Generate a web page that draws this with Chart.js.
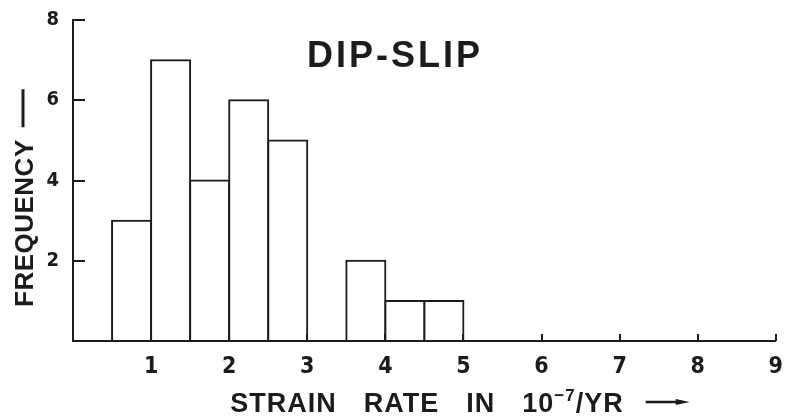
<!DOCTYPE html>
<html>
<head>
<meta charset="utf-8">
<script src="https://cdn.jsdelivr.net/npm/chart.js@4/dist/chart.umd.min.js"></script>
<style>
  html, body { margin: 0; padding: 0; background: #fff; }
  canvas { display: block; }
</style>
</head>
<body>
<canvas id="chart" width="787" height="417"></canvas>
<script>
// histogram bins, width 0.5 (x 10^-7 / yr)
const binCenters = [0.75, 1.25, 1.75, 2.25, 2.75, 3.25, 3.75, 4.25, 4.75]
const frequencies = [3, 7, 4, 6, 5, 0, 2, 1, 1]
const xTickValues = [1, 2, 3, 4, 5, 6, 7, 8, 9]
const yTickValues = [2, 4, 6, 8]

const chartTitle = 'DIP-SLIP'
const yTitle = 'FREQUENCY'
const xTitleWords = ['STRAIN', 'RATE', 'IN', '10']
const xTitleExp = '\u22127'
const xTitleUnit = '/YR'

const ink = '#1c1c1c'
const tickFont = "'DejaVu Sans Condensed', 'DejaVu Sans', sans-serif"
const titleFont = "'Liberation Sans', Arial, sans-serif"

const decorations = {
  id: 'decorations',
  afterDraw(chart) {
    const { ctx, chartArea, scales: { x, y } } = chart
    ctx.save()
    ctx.strokeStyle = ink
    ctx.fillStyle = ink
    ctx.lineWidth = 2

    // inward tick marks
    yTickValues.forEach((v) => {
      const py = Math.round(y.getPixelForValue(v))
      ctx.beginPath()
      ctx.moveTo(chartArea.left, py)
      ctx.lineTo(chartArea.left + 12, py)
      ctx.stroke()
    })
    xTickValues.forEach((v) => {
      const px = Math.round(x.getPixelForValue(v))
      ctx.beginPath()
      ctx.moveTo(px, chartArea.bottom)
      ctx.lineTo(px, chartArea.bottom - 7)
      ctx.stroke()
    })

    // title inside the plot
    ctx.font = `bold 36px ${titleFont}`
    ctx.letterSpacing = '3px'
    ctx.textAlign = 'left'
    ctx.textBaseline = 'alphabetic'
    const tw = ctx.measureText(chartTitle).width
    ctx.fillText(chartTitle, 395 - tw / 2, 67)

    // x axis title
    ctx.font = `bold 27px ${titleFont}`
    ctx.letterSpacing = '1px'
    const gap = 27
    const expFont = `bold 17px ${titleFont}`
    const widths = xTitleWords.map((w) => ctx.measureText(w).width)
    ctx.font = expFont
    const expW = ctx.measureText(xTitleExp).width
    ctx.font = `bold 27px ${titleFont}`
    const unitW = ctx.measureText(xTitleUnit).width
    const arrowW = 44
    const total = widths.reduce((a, b) => a + b, 0) + gap * (xTitleWords.length - 1) + expW + unitW + 22 + arrowW
    let cx = 460 - total / 2
    const base = 412
    xTitleWords.forEach((w, i) => {
      ctx.fillText(w, cx, base)
      cx += widths[i] + (i < xTitleWords.length - 1 ? gap : 0)
    })
    ctx.font = expFont
    ctx.fillText(xTitleExp, cx, base - 11)
    cx += expW
    ctx.font = `bold 27px ${titleFont}`
    ctx.fillText(xTitleUnit, cx, base)
    cx += unitW + 22
    ctx.lineWidth = 2.5
    ctx.beginPath()
    ctx.moveTo(cx, base - 10)
    ctx.lineTo(cx + arrowW - 8, base - 10)
    ctx.stroke()
    ctx.beginPath()
    ctx.moveTo(cx + arrowW, base - 10)
    ctx.lineTo(cx + arrowW - 14, base - 13)
    ctx.lineTo(cx + arrowW - 14, base - 7)
    ctx.closePath()
    ctx.fill()

    // y axis title, rotated
    ctx.save()
    ctx.translate(33, 307)
    ctx.rotate(-Math.PI / 2)
    ctx.font = `bold 26px ${titleFont}`
    ctx.letterSpacing = '0.5px'
    const yw = ctx.measureText(yTitle).width
    ctx.fillText(yTitle, 0, 0)
    ctx.lineWidth = 3
    ctx.beginPath()
    ctx.moveTo(yw + 12, -10)
    ctx.lineTo(yw + 50, -10)
    ctx.stroke()
    ctx.restore()

    ctx.restore()
  },
}

new Chart(document.getElementById('chart'), {
  type: 'bar',
  data: {
    datasets: [{
      data: binCenters.map((c, i) => ({ x: c, y: frequencies[i] })),
      backgroundColor: '#ffffff',
      borderColor: ink,
      borderWidth: 2,
      borderSkipped: false,
      inflateAmount: 1,
      barPercentage: 1,
      categoryPercentage: 1,
    }],
  },
  options: {
    responsive: false,
    animation: false,
    layout: { padding: { top: 20, right: 11, left: 0, bottom: 0 } },
    plugins: { legend: { display: false }, tooltip: { enabled: false } },
    scales: {
      x: {
        type: 'linear',
        offset: false,
        min: 0,
        max: 9,
        grid: { display: false },
        border: { color: ink, width: 2 },
        ticks: {
          stepSize: 1,
          padding: 4,
          color: ink,
          font: { family: tickFont, size: 23, weight: 'bold' },
          callback: (v) => (xTickValues.includes(v) ? String(v) : ''),
        },
        afterFit: (s) => { s.height = 76 },
      },
      y: {
        min: 0,
        max: 8,
        grid: { display: false },
        border: { color: ink, width: 2 },
        ticks: {
          stepSize: 2,
          padding: 6,
          color: ink,
          font: { family: tickFont, size: 20, weight: 'bold' },
          callback: (v) => (yTickValues.includes(v) ? String(v) : ''),
        },
        afterFit: (s) => { s.width = 73 },
      },
    },
  },
  plugins: [decorations],
})
</script>
</body>
</html>
